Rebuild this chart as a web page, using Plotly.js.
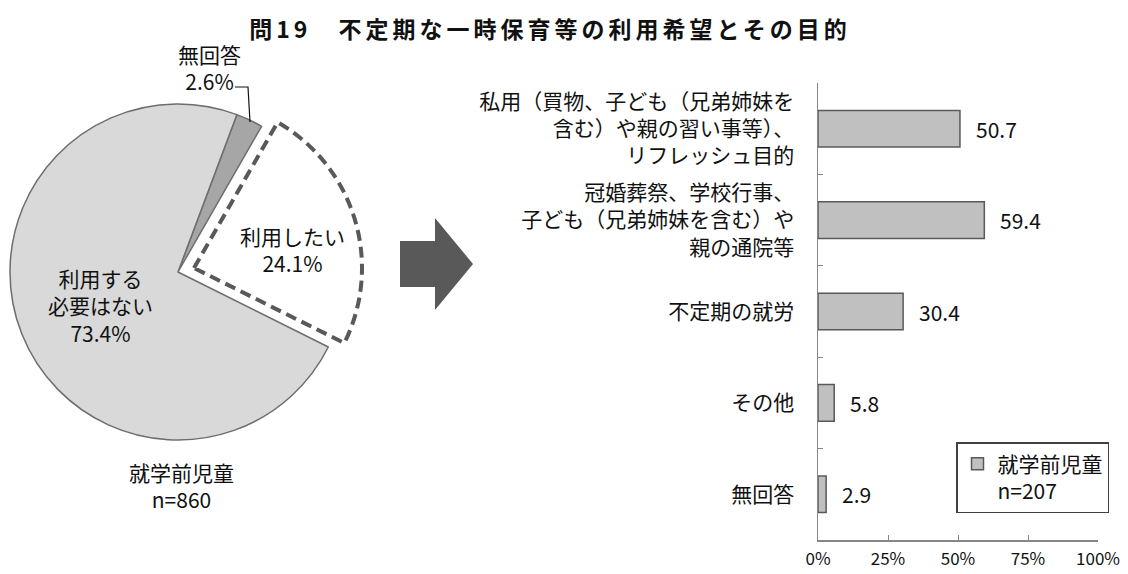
<!DOCTYPE html>
<html>
<head>
<meta charset="utf-8">
<script src="https://cdn.plot.ly/plotly-3.0.1.min.js"></script>
<style>
    html, body { margin: 0; padding: 0; background: #fff; }
    #chart { width: 1128px; height: 574px; }
    #chart .gtitle { letter-spacing: 4px; }
</style>
</head>
<body>
<div id="chart"></div>
<script>
// 円グラフ（就学前児童 n=860）
const pieLabels = ['無回答', '利用したい', '利用する必要はない'];
const pieText = ['無回答', '利用したい', '利用する<br>必要はない'];
const pieValues = [2.6, 24.1, 73.4];

// 棒グラフ（利用目的 n=207）
const barCats = [
    '私用（買物、子ども（兄弟姉妹を<br>含む）や親の習い事等）、<br>リフレッシュ目的',
    '冠婚葬祭、学校行事、<br>子ども（兄弟姉妹を含む）や<br>親の通院等',
    '不定期の就労',
    'その他',
    '無回答'
];
const barValues = [50.7, 59.4, 30.4, 5.8, 2.9];
const xTicks = [0, 25, 50, 75, 100];
const xTickText = ['0%', '25%', '50%', '75%', '100%'];

const W = 1128, H = 574;
const px = x => x / W;
const py = y => 1 - y / H;

const FONT = '"Noto Sans CJK JP", "Noto Sans", sans-serif';
const clear = 'rgba(0,0,0,0)';

// 本体の円（利用したい は透明にして、切り出した円で描く）
const pieBase = {
    type: 'pie',
    labels: pieLabels,
    values: pieValues,
    sort: false,
    direction: 'clockwise',
    rotation: 20.5,
    textinfo: 'none',
    hoverinfo: 'label+value',
    showlegend: false,
    domain: { x: [px(10), px(346)], y: [py(440), py(104)] },
    marker: {
        colors: ['#a6a6a6', clear, '#d9d9d9'],
        line: { color: '#6d6d6d', width: [1.5, 0, 1.5] }
    }
};

// 切り出した「利用したい」（点線枠）
const piePulled = {
    type: 'pie',
    labels: pieLabels,
    values: pieValues,
    sort: false,
    direction: 'clockwise',
    rotation: 20.5,
    textinfo: 'none',
    hoverinfo: 'label+value',
    showlegend: false,
    domain: { x: [px(26), px(362)], y: [py(436), py(100)] },
    marker: {
        colors: [clear, '#ffffff', clear],
        line: { color: '#595959', width: [0, 4, 0] }
    }
};

const bars = {
    type: 'bar',
    orientation: 'h',
    x: barValues,
    y: barCats,
    width: 0.4,
    name: '就学前児童<br>n=207',
    marker: { color: '#c0c0c0', line: { color: '#595959', width: 1.5 } },
    xaxis: 'x',
    yaxis: 'y',
    hoverinfo: 'x+y'
};

// 円のラベル位置（px）
const pieLabelPos = [[209, 67], [292, 249], [100, 305]];

const annotations = pieLabels.map((l, i) => ({
    xref: 'paper', yref: 'paper',
    x: px(pieLabelPos[i][0]), y: py(pieLabelPos[i][1]),
    xanchor: 'center', yanchor: 'middle',
    text: `${pieText[i]}<br>${pieValues[i].toFixed(1)}%`,
    showarrow: false,
    font: { size: 21, color: '#111' }
}));

annotations.push({
    xref: 'paper', yref: 'paper',
    x: px(181), y: py(485),
    xanchor: 'center', yanchor: 'middle',
    text: '就学前児童<br>n=860',
    showarrow: false,
    font: { size: 21, color: '#111' }
});

barValues.forEach((v, i) => {
    annotations.push({
        xref: 'x', yref: 'y',
        x: v, y: barCats[i],
        xanchor: 'left', yanchor: 'middle',
        xshift: 14,
        text: v.toFixed(1),
        showarrow: false,
        font: { size: 21, color: '#111' }
    });
});

const shapes = [
    // 無回答の引出し線
    {
        type: 'path', xref: 'paper', yref: 'paper',
        path: `M${px(235)},${py(87)} L${px(248)},${py(87)} L${px(250)},${py(122)}`,
        line: { color: '#111', width: 1.2 }
    },
    // 矢印
    {
        type: 'path', xref: 'paper', yref: 'paper',
        path: `M${px(400)},${py(241)} L${px(435)},${py(241)} L${px(435)},${py(218)} L${px(473)},${py(264)} ` +
              `L${px(435)},${py(310)} L${px(435)},${py(287)} L${px(400)},${py(287)} Z`,
        fillcolor: '#595959',
        line: { width: 0 }
    }
];

const layout = {
    width: W,
    height: H,
    margin: { t: 0, b: 0, l: 0, r: 0 },
    paper_bgcolor: '#ffffff',
    plot_bgcolor: '#ffffff',
    font: { family: FONT, size: 21, color: '#111' },
    title: {
        text: '<b>問19　不定期な一時保育等の利用希望とその目的</b>',
        x: px(550), xanchor: 'center',
        y: py(30), yanchor: 'middle',
        font: { size: 23, color: '#111' }
    },
    xaxis: {
        domain: [px(818), px(1098)],
        range: [0, 100],
        tickvals: xTicks,
        ticktext: xTickText,
        ticks: 'inside',
        ticklen: 5,
        tickcolor: '#868686',
        showline: true,
        linecolor: '#868686',
        linewidth: 1.5,
        showgrid: false,
        zeroline: false,
        ticklabelstandoff: 3,
        tickfont: { size: 17 },
        anchor: 'y',
        fixedrange: true
    },
    yaxis: {
        domain: [py(540), py(83)],
        type: 'category',
        categoryorder: 'array',
        categoryarray: barCats,
        autorange: 'reversed',
        tickson: 'boundaries',
        ticks: 'inside',
        ticklen: 5,
        tickcolor: '#868686',
        showline: true,
        linecolor: '#868686',
        linewidth: 1.5,
        showgrid: false,
        zeroline: false,
        ticklabelstandoff: 18,
        tickfont: { size: 21 },
        anchor: 'x',
        fixedrange: true
    },
    showlegend: true,
    legend: {
        x: px(956), y: py(442),
        xanchor: 'left', yanchor: 'top',
        bgcolor: '#ffffff',
        bordercolor: '#404040',
        borderwidth: 1.5,
        valign: 'top',
        font: { size: 21, color: '#111' }
    },
    annotations: annotations,
    shapes: shapes
};

Plotly.newPlot('chart', [pieBase, piePulled, bars], layout, { displayModeBar: false, staticPlot: true })
    .then(() => {
        // 切り出したスライスを点線にする
        const traces = document.querySelectorAll('#chart .pielayer .trace');
        if (traces.length > 1) {
            const slices = traces[1].querySelectorAll('.slice path.surface');
            if (slices[1]) {
                slices[1].style.strokeDasharray = '11 6';
                slices[1].style.strokeLinejoin = 'miter';
            }
        }
    });
</script>
</body>
</html>
